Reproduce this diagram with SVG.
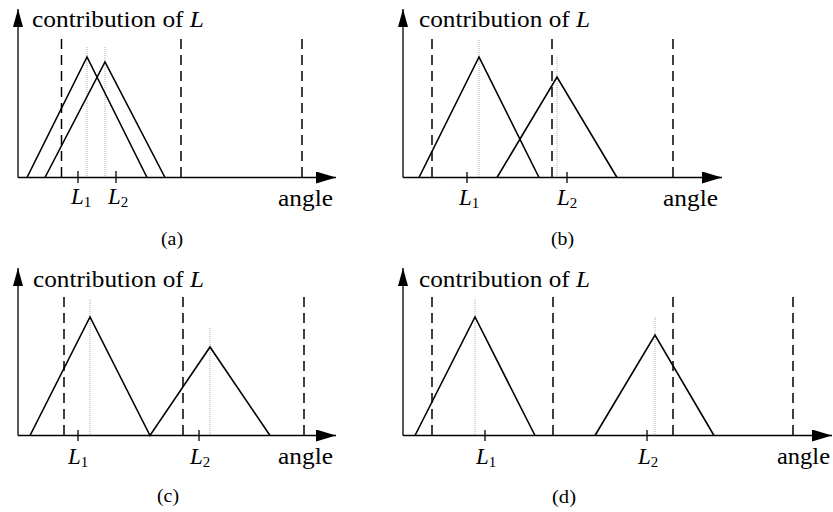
<svg xmlns="http://www.w3.org/2000/svg" width="833" height="512" viewBox="0 0 833 512">
<style>
.t{font-size:24px}
.lab{font-size:23px;font-style:italic}
.sub{font-size:15px;font-style:normal}
.cap{font-size:19px}
.axis{stroke:#000;stroke-width:1.3;fill:none}
.dash{stroke:#000;stroke-width:1.5;stroke-dasharray:10 6;fill:none}
.tri{stroke:#000;stroke-width:1.6;fill:none;stroke-linejoin:miter}
.dot{stroke:#777;stroke-width:0.6;stroke-dasharray:1 1;fill:none}
.tick{stroke:#000;stroke-width:1.3}
</style>
<defs>
<marker id="ah" viewBox="0 0 20 12" refX="20" refY="6" markerWidth="20" markerHeight="12" markerUnits="userSpaceOnUse" orient="auto"><path d="M0,0 L20,6 L0,12 Z" fill="#000"/></marker>
<marker id="av" viewBox="0 0 18 10" refX="18" refY="5" markerWidth="18" markerHeight="10" markerUnits="userSpaceOnUse" orient="auto"><path d="M0,0 L18,5 L0,10 Z" fill="#000"/></marker>
</defs>
<g font-family="'Liberation Serif', 'Times New Roman', Times, serif" fill="#000">
<g id="panel-a">
  <g id="a-connectors">
    <line class="axis" x1="18" y1="177.5" x2="18" y2="9" marker-end="url(#av)"/>
    <line class="axis" x1="18" y1="177.5" x2="336" y2="177.5" marker-end="url(#ah)"/>
    <line class="dash" x1="61.5" y1="39" x2="61.5" y2="177"/>
    <line class="dash" x1="181" y1="39" x2="181" y2="177"/>
    <line class="dash" x1="302" y1="39" x2="302" y2="177"/>
    <line class="dot" x1="87" y1="47" x2="87" y2="177"/>
    <line class="dot" x1="105" y1="47" x2="105" y2="177"/>
    <polyline class="tri" points="27,177.5 87,57 147,177.5"/>
    <polyline class="tri" points="45,177.5 105,62 165,177.5"/>
    <line class="tick" x1="78" y1="171" x2="78" y2="183"/>
    <line class="tick" x1="116" y1="171" x2="116" y2="183"/>
  </g>
  <text class="t" x="32" y="27" textLength="172" lengthAdjust="spacingAndGlyphs">contribution of <tspan font-style="italic">L</tspan></text>
  <text class="t" x="278" y="206" textLength="55" lengthAdjust="spacingAndGlyphs">angle</text>
  <text class="lab" x="71" y="204">L<tspan class="sub" dy="3">1</tspan></text>
  <text class="lab" x="108" y="204">L<tspan class="sub" dy="3">2</tspan></text>
  <text class="cap" x="161" y="245" textLength="22" lengthAdjust="spacingAndGlyphs">(a)</text>
</g>

<g id="panel-b">
  <g id="b-connectors">
    <line class="axis" x1="403" y1="177.5" x2="403" y2="9" marker-end="url(#av)"/>
    <line class="axis" x1="403" y1="177.5" x2="722" y2="177.5" marker-end="url(#ah)"/>
    <line class="dash" x1="432" y1="39" x2="432" y2="177"/>
    <line class="dash" x1="552" y1="39" x2="552" y2="177"/>
    <line class="dash" x1="673" y1="39" x2="673" y2="177"/>
    <line class="dot" x1="479" y1="40" x2="479" y2="177"/>
    <line class="dot" x1="557" y1="57" x2="557" y2="177"/>
    <polyline class="tri" points="419,177.5 479,57 539,177.5"/>
    <polyline class="tri" points="497,177.5 557,77 617,177.5"/>
    <line class="tick" x1="467" y1="172" x2="467" y2="183"/>
    <line class="tick" x1="567" y1="172" x2="567" y2="183"/>
  </g>
  <text class="t" x="419" y="27" textLength="171" lengthAdjust="spacingAndGlyphs">contribution of <tspan font-style="italic">L</tspan></text>
  <text class="t" x="663" y="206" textLength="55" lengthAdjust="spacingAndGlyphs">angle</text>
  <text class="lab" x="459" y="205">L<tspan class="sub" dy="3">1</tspan></text>
  <text class="lab" x="557" y="205">L<tspan class="sub" dy="3">2</tspan></text>
  <text class="cap" x="551" y="245" textLength="23" lengthAdjust="spacingAndGlyphs">(b)</text>
</g>

<g id="panel-c">
  <g id="c-connectors">
    <line class="axis" x1="18" y1="435.5" x2="18" y2="268" marker-end="url(#av)"/>
    <line class="axis" x1="18" y1="435.5" x2="336" y2="435.5" marker-end="url(#ah)"/>
    <line class="dash" x1="64" y1="297" x2="64" y2="435"/>
    <line class="dash" x1="183" y1="297" x2="183" y2="435"/>
    <line class="dash" x1="304" y1="297" x2="304" y2="435"/>
    <line class="dot" x1="90" y1="299" x2="90" y2="435"/>
    <line class="dot" x1="210" y1="328" x2="210" y2="435"/>
    <polyline class="tri" points="30,435.5 90,317 150,435.5 210,347 270,435.5"/>
    <line class="tick" x1="78" y1="430" x2="78" y2="441"/>
    <line class="tick" x1="199" y1="430" x2="199" y2="441"/>
  </g>
  <text class="t" x="33" y="287" textLength="171" lengthAdjust="spacingAndGlyphs">contribution of <tspan font-style="italic">L</tspan></text>
  <text class="t" x="278" y="464" textLength="55" lengthAdjust="spacingAndGlyphs">angle</text>
  <text class="lab" x="68" y="464">L<tspan class="sub" dy="3">1</tspan></text>
  <text class="lab" x="190" y="464">L<tspan class="sub" dy="3">2</tspan></text>
  <text class="cap" x="157" y="502" textLength="22" lengthAdjust="spacingAndGlyphs">(c)</text>
</g>

<g id="panel-d">
  <g id="d-connectors">
    <line class="axis" x1="403" y1="435.5" x2="403" y2="268" marker-end="url(#av)"/>
    <line class="axis" x1="403" y1="435.5" x2="832" y2="435.5" marker-end="url(#ah)"/>
    <line class="dash" x1="432" y1="297" x2="432" y2="435"/>
    <line class="dash" x1="553" y1="297" x2="553" y2="435"/>
    <line class="dash" x1="673" y1="297" x2="673" y2="435"/>
    <line class="dash" x1="793" y1="297" x2="793" y2="435"/>
    <line class="dot" x1="475" y1="299" x2="475" y2="435"/>
    <line class="dot" x1="655" y1="317" x2="655" y2="435"/>
    <polyline class="tri" points="415,435.5 475,317 535,435.5"/>
    <polyline class="tri" points="595,435.5 655,335 714,435.5"/>
    <line class="tick" x1="485" y1="430" x2="485" y2="441"/>
    <line class="tick" x1="647" y1="430" x2="647" y2="441"/>
  </g>
  <text class="t" x="419" y="287" textLength="171" lengthAdjust="spacingAndGlyphs">contribution of <tspan font-style="italic">L</tspan></text>
  <text class="t" x="777" y="464" textLength="53" lengthAdjust="spacingAndGlyphs">angle</text>
  <text class="lab" x="476" y="464">L<tspan class="sub" dy="3">1</tspan></text>
  <text class="lab" x="638" y="464">L<tspan class="sub" dy="3">2</tspan></text>
  <text class="cap" x="552" y="503" textLength="24" lengthAdjust="spacingAndGlyphs">(d)</text>
</g>
</g>
</svg>
